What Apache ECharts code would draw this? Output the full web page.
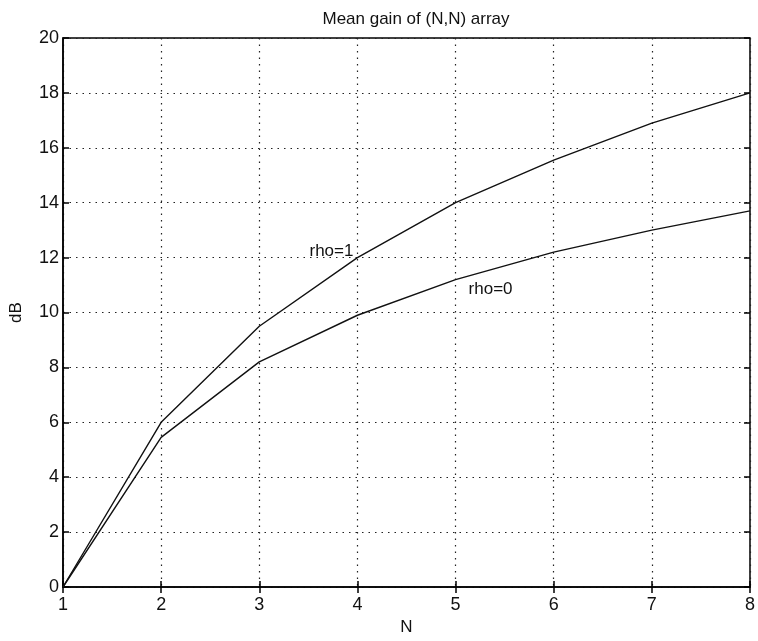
<!DOCTYPE html>
<html>
<head>
<meta charset="utf-8">
<script src="https://cdn.jsdelivr.net/npm/echarts@6/dist/echarts.min.js"></script>
<style>
  html, body { margin: 0; padding: 0; background: #fff; }
  #main { width: 758px; height: 641px; }
</style>
</head>
<body>
<div id="main"></div>
<script>
// data
var nValues = [1, 2, 3, 4, 5, 6, 7, 8];
var rho1 = [0, 6.0, 9.5, 12.0, 14.0, 15.55, 16.9, 18.0];
var rho0 = [0, 5.45, 8.2, 9.9, 11.2, 12.2, 13.0, 13.7];
var seriesNames = ['rho=1', 'rho=0'];

var font = 'Liberation Sans, Arial, sans-serif';

function pairs(ys) {
  return nValues.map(function (n, i) { return [n, ys[i]]; });
}

var data1 = pairs(rho1);
var data0 = pairs(rho0);
// curve labels sit next to one point of each curve
data1[3] = { value: data1[3], label: { show: true, formatter: seriesNames[0], position: 'left', offset: [1, -6] } };
data0[4] = { value: data0[4], label: { show: true, formatter: seriesNames[1], position: 'right', offset: [8, 10] } };

var chart = echarts.init(document.getElementById('main'));

var tickStyle = { show: true, inside: true, length: 6, lineStyle: { color: '#000', width: 1.5 } };

var option = {
  animation: false,
  backgroundColor: '#fff',
  title: {
    text: 'Mean gain of (N,N) array',
    left: 411, top: 6, textAlign: 'center',
    textStyle: { fontFamily: font, fontSize: 17, fontWeight: 'normal', color: '#111' }
  },
  grid: { left: 57, right: 6, top: 38, bottom: 53, show: true, borderColor: '#000', borderWidth: 1.5 },
  xAxis: [{
    type: 'value', min: 1, max: 8, interval: 1,
    name: 'N', nameLocation: 'middle', nameGap: 32,
    nameTextStyle: { fontFamily: font, fontSize: 17, color: '#111' },
    axisLine: { show: true, lineStyle: { color: '#000', width: 1.5 } },
    axisTick: tickStyle,
    axisLabel: { fontFamily: font, fontSize: 18, color: '#111', margin: 9 },
    splitLine: { show: true, lineStyle: { color: '#222', type: [1.5, 5], width: 1.2 } }
  }, {
    type: 'value', min: 1, max: 8, interval: 1, position: 'top',
    axisLine: { show: false }, axisTick: tickStyle, axisLabel: { show: false }, splitLine: { show: false }
  }],
  yAxis: [{
    type: 'value', min: 0, max: 20, interval: 2,
    name: 'dB', nameLocation: 'middle', nameGap: 38,
    nameTextStyle: { fontFamily: font, fontSize: 17, color: '#111' },
    axisLine: { show: true, lineStyle: { color: '#000', width: 1.5 } },
    axisTick: tickStyle,
    axisLabel: { fontFamily: font, fontSize: 18, color: '#111', margin: 4 },
    splitLine: { show: true, lineStyle: { color: '#222', type: [1.5, 5], width: 1.2 } }
  }, {
    type: 'value', min: 0, max: 20, interval: 2, position: 'right',
    axisLine: { show: false }, axisTick: tickStyle, axisLabel: { show: false }, splitLine: { show: false }
  }],
  series: [{
    name: seriesNames[0], type: 'line', data: data1,
    showSymbol: true, symbol: 'circle', symbolSize: 0,
    lineStyle: { color: '#111', width: 1.4 },
    itemStyle: { color: '#111' },
    label: { fontFamily: font, fontSize: 17, color: '#111' }
  }, {
    name: seriesNames[1], type: 'line', data: data0,
    showSymbol: true, symbol: 'circle', symbolSize: 0,
    lineStyle: { color: '#111', width: 1.4 },
    itemStyle: { color: '#111' },
    label: { fontFamily: font, fontSize: 17, color: '#111' }
  }]
};

chart.setOption(option);
</script>
</body>
</html>
